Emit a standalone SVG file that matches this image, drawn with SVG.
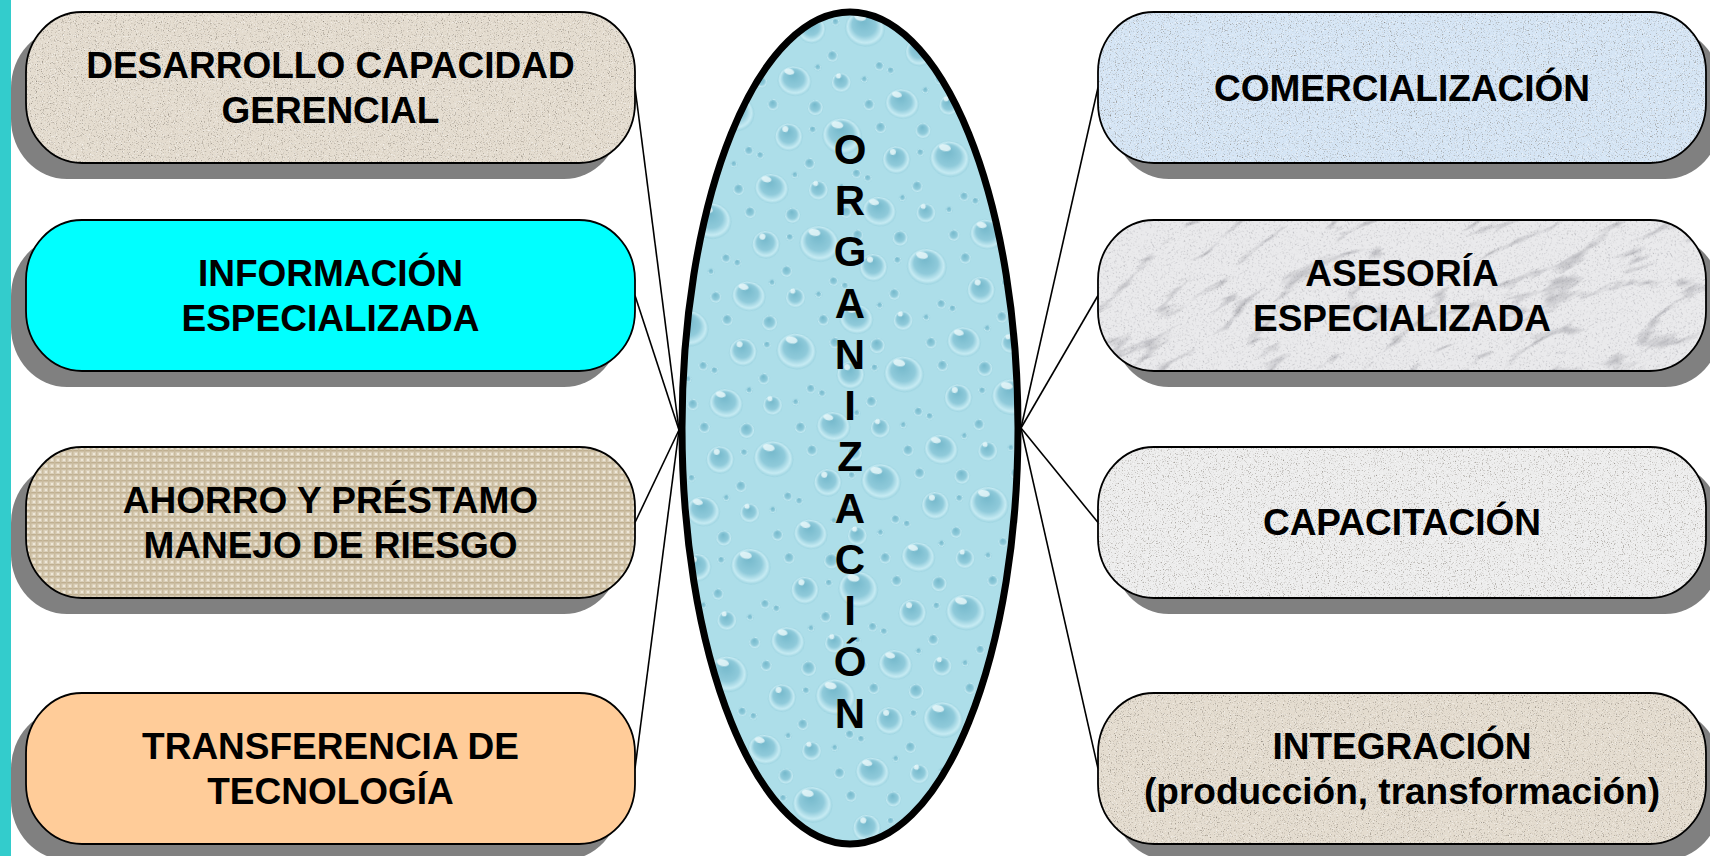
<svg xmlns="http://www.w3.org/2000/svg" width="1710" height="856" viewBox="0 0 1710 856">
  <style>
    .lbl { font-family: "Liberation Sans", Arial, sans-serif; font-weight: bold; font-size: 37px; fill: #000; text-anchor: middle; }
    .big { font-family: "Liberation Sans", Arial, sans-serif; font-weight: bold; font-size: 42px; fill: #000; text-anchor: middle; }
    .shadow { fill: #808080; }
    .outline { fill: none; stroke: #000; stroke-width: 1.8; }
    .conn { stroke: #000; stroke-width: 1.6; fill: none; }
    .hl { fill: #EFFBFD; opacity: 0.8; }
  </style>
  <defs>
    <filter id="grain" x="0%" y="0%" width="100%" height="100%" color-interpolation-filters="sRGB">
      <feTurbulence type="fractalNoise" baseFrequency="0.85" numOctaves="2" seed="4" result="noise"/>
      <feColorMatrix in="noise" type="matrix" values="0 0 0 0 0.45  0 0 0 0 0.42  0 0 0 0 0.38  2.2 0 0 0 -1.25" result="spots"/>
      <feComposite in="spots" in2="SourceAlpha" operator="in" result="spotsIn"/>
      <feColorMatrix in="noise" type="matrix" values="0 0 0 0 1  0 0 0 0 1  0 0 0 0 1  0 -2.2 0 0 0.95" result="light"/>
      <feComposite in="light" in2="SourceAlpha" operator="in" result="lightIn"/>
      <feMerge><feMergeNode in="SourceGraphic"/><feMergeNode in="spotsIn"/><feMergeNode in="lightIn"/></feMerge>
    </filter>
    <filter id="marble" x="0%" y="0%" width="100%" height="100%" color-interpolation-filters="sRGB">
      <feTurbulence type="turbulence" baseFrequency="0.008 0.03" numOctaves="4" seed="7" result="t"/>
      <feColorMatrix in="t" type="matrix" values="0 0 0 0 0.55  0 0 0 0 0.55  0 0 0 0 0.58  -2.8 0 0 0 0.55" result="veins"/>
      <feComposite in="veins" in2="SourceAlpha" operator="in" result="vIn"/>
      <feTurbulence type="fractalNoise" baseFrequency="0.6" numOctaves="2" seed="9" result="n2"/>
      <feColorMatrix in="n2" type="matrix" values="0 0 0 0 0.55  0 0 0 0 0.55  0 0 0 0 0.58  2 0 0 0 -1.15" result="sp"/>
      <feComposite in="sp" in2="SourceAlpha" operator="in" result="spIn"/>
      <feMerge><feMergeNode in="SourceGraphic"/><feMergeNode in="vIn"/><feMergeNode in="spIn"/></feMerge>
    </filter>
    <pattern id="weave" width="6" height="6" patternUnits="userSpaceOnUse">
      <rect width="6" height="6" fill="#DBD0BA"/>
      <rect x="0" y="0" width="6" height="1.5" fill="#BFAF90"/>
      <rect x="0" y="0" width="1.5" height="6" fill="#C9BB9E"/>
      <rect x="3" y="3" width="2" height="2" fill="#EEE7D8"/>
    </pattern>
    <radialGradient id="dropG" cx="0.5" cy="0.5" r="0.5" fx="0.4" fy="0.28">
      <stop offset="0" stop-color="#74B8CB"/>
      <stop offset="0.6" stop-color="#8FCADA"/>
      <stop offset="0.86" stop-color="#C6EBF3"/>
      <stop offset="1" stop-color="#9CD3E0"/>
    </radialGradient>
    <pattern id="drops" width="110" height="110" patternUnits="userSpaceOnUse" patternTransform="rotate(12)">
      <rect width="110" height="110" fill="#ADDEE9"/>
      <ellipse cx="24" cy="24" rx="17" ry="15" fill="url(#dropG)"/>
      <ellipse cx="17" cy="16" rx="5" ry="3" class="hl"/>
      <circle cx="70" cy="16" r="10" fill="url(#dropG)"/>
      <circle cx="66" cy="10" r="2.5" class="hl"/>
      <ellipse cx="82" cy="68" rx="20" ry="18" fill="url(#dropG)"/>
      <ellipse cx="75" cy="58" rx="6" ry="3.5" class="hl"/>
      <circle cx="30" cy="80" r="14" fill="url(#dropG)"/>
      <circle cx="25" cy="73" r="3" class="hl"/>
      <circle cx="50" cy="46" r="8" fill="url(#dropG)"/>
      <circle cx="8" cy="52" r="6" fill="url(#dropG)"/>
      <circle cx="56" cy="102" r="6" fill="url(#dropG)"/>
      <circle cx="102" cy="32" r="6" fill="url(#dropG)"/>
      <circle cx="52" cy="68" r="4" fill="url(#dropG)"/>
      <circle cx="104" cy="102" r="5" fill="url(#dropG)"/>
      <circle cx="92" cy="8" r="3.5" fill="url(#dropG)"/>
      <circle cx="6" cy="104" r="4" fill="url(#dropG)"/>
      <circle cx="44" cy="6" r="3.5" fill="url(#dropG)"/>
    </pattern>
    <clipPath id="clipR2"><rect x="1098" y="220" width="608" height="151" rx="56" ry="60"/></clipPath>
  </defs>

  <rect id="side-bar" x="0" y="0" width="11" height="856" fill="#33CCCC"/>

  <g id="connectors">
    <line class="conn" x1="635" y1="87.5" x2="679" y2="430"/>
    <line class="conn" x1="635" y1="295.5" x2="679" y2="430"/>
    <line class="conn" x1="635" y1="522.5" x2="679" y2="430"/>
    <line class="conn" x1="635" y1="768.5" x2="679" y2="430"/>
    <line class="conn" x1="1098" y1="87.5" x2="1021" y2="428"/>
    <line class="conn" x1="1098" y1="295.5" x2="1021" y2="428"/>
    <line class="conn" x1="1098" y1="522.5" x2="1021" y2="428"/>
    <line class="conn" x1="1098" y1="768.5" x2="1021" y2="428"/>
  </g>

  <g id="n-desarrollo">
    <rect class="shadow" x="11" y="28" width="609" height="151" rx="56" ry="60"/>
    <rect x="26" y="12" width="609" height="151" rx="56" ry="60" fill="#E4DCCF" filter="url(#grain)"/>
    <rect class="outline" x="26" y="12" width="609" height="151" rx="56" ry="60"/>
    <text class="lbl" x="330.5" y="78">DESARROLLO CAPACIDAD</text>
    <text class="lbl" x="330.5" y="123">GERENCIAL</text>
  </g>

  <g id="n-informacion">
    <rect class="shadow" x="11" y="236" width="609" height="151" rx="56" ry="60"/>
    <rect x="26" y="220" width="609" height="151" rx="56" ry="60" fill="#00FFFF"/>
    <rect class="outline" x="26" y="220" width="609" height="151" rx="56" ry="60"/>
    <text class="lbl" x="330.5" y="286">INFORMACIÓN</text>
    <text class="lbl" x="330.5" y="331">ESPECIALIZADA</text>
  </g>

  <g id="n-ahorro">
    <rect class="shadow" x="11" y="463" width="609" height="151" rx="56" ry="60"/>
    <rect x="26" y="447" width="609" height="151" rx="56" ry="60" fill="url(#weave)"/>
    <rect class="outline" x="26" y="447" width="609" height="151" rx="56" ry="60"/>
    <text class="lbl" x="330.5" y="513">AHORRO Y PRÉSTAMO</text>
    <text class="lbl" x="330.5" y="558">MANEJO DE RIESGO</text>
  </g>

  <g id="n-transferencia">
    <rect class="shadow" x="11" y="709" width="609" height="151" rx="56" ry="60"/>
    <rect x="26" y="693" width="609" height="151" rx="56" ry="60" fill="#FFCC99"/>
    <rect class="outline" x="26" y="693" width="609" height="151" rx="56" ry="60"/>
    <text class="lbl" x="330.5" y="759">TRANSFERENCIA DE</text>
    <text class="lbl" x="330.5" y="804">TECNOLOGÍA</text>
  </g>

  <g id="n-comercializacion">
    <rect class="shadow" x="1113" y="28" width="608" height="151" rx="56" ry="60"/>
    <rect x="1098" y="12" width="608" height="151" rx="56" ry="60" fill="#D5E5F5" filter="url(#grain)"/>
    <rect class="outline" x="1098" y="12" width="608" height="151" rx="56" ry="60"/>
    <text class="lbl" x="1402" y="101">COMERCIALIZACIÓN</text>
  </g>

  <g id="n-asesoria">
    <rect class="shadow" x="1113" y="236" width="608" height="151" rx="56" ry="60"/>
    <g clip-path="url(#clipR2)">
      <rect x="1000" y="-100" width="800" height="800" fill="#EAEAEC" filter="url(#marble)" transform="rotate(-28 1402 295)"/>
    </g>
    <rect class="outline" x="1098" y="220" width="608" height="151" rx="56" ry="60"/>
    <text class="lbl" x="1402" y="286">ASESORÍA</text>
    <text class="lbl" x="1402" y="331">ESPECIALIZADA</text>
  </g>

  <g id="n-capacitacion">
    <rect class="shadow" x="1113" y="463" width="608" height="151" rx="56" ry="60"/>
    <rect x="1098" y="447" width="608" height="151" rx="56" ry="60" fill="#EDEDED" filter="url(#grain)"/>
    <rect class="outline" x="1098" y="447" width="608" height="151" rx="56" ry="60"/>
    <text class="lbl" x="1402" y="535">CAPACITACIÓN</text>
  </g>

  <g id="n-integracion">
    <rect class="shadow" x="1113" y="709" width="608" height="151" rx="56" ry="60"/>
    <rect x="1098" y="693" width="608" height="151" rx="56" ry="60" fill="#E4DCCF" filter="url(#grain)"/>
    <rect class="outline" x="1098" y="693" width="608" height="151" rx="56" ry="60"/>
    <text class="lbl" x="1402" y="759">INTEGRACIÓN</text>
    <text class="lbl" x="1402" y="804">(producción, transformación)</text>
  </g>

  <g id="n-organizacion">
    <ellipse cx="850" cy="428" rx="168" ry="416" fill="url(#drops)" stroke="#000" stroke-width="7"/>
    <text class="big" x="850" y="164">O</text>
    <text class="big" x="850" y="215">R</text>
    <text class="big" x="850" y="266">G</text>
    <text class="big" x="850" y="318">A</text>
    <text class="big" x="850" y="369">N</text>
    <text class="big" x="850" y="420">I</text>
    <text class="big" x="850" y="471">Z</text>
    <text class="big" x="850" y="523">A</text>
    <text class="big" x="850" y="574">C</text>
    <text class="big" x="850" y="625">I</text>
    <text class="big" x="850" y="676">Ó</text>
    <text class="big" x="850" y="728">N</text>
  </g>
</svg>
